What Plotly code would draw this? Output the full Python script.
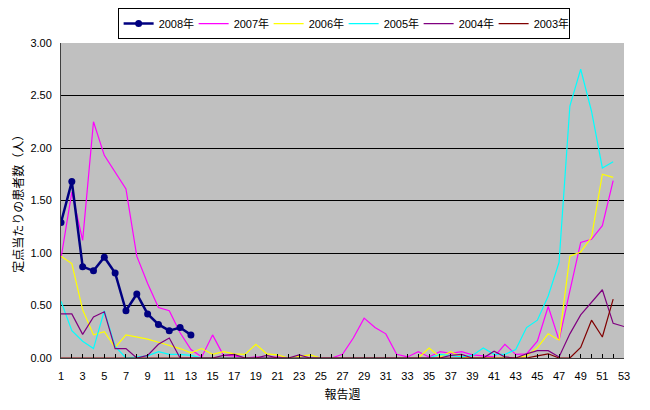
import plotly.graph_objects as go

weeks = list(range(1, 54))
x_tick_labels = [str(w) for w in range(1, 54, 2)]

y2008 = [1.29, 1.68, 0.87, 0.83, 0.96, 0.81, 0.45, 0.61, 0.42, 0.32, 0.26, 0.29, 0.22]
y2007 = [0.95, 1.58, 1.12, 2.25, 1.93, 1.77, 1.61, 0.97, 0.71, 0.48, 0.45, 0.24, 0.08, 0.01, 0.22,
         0.025, 0.02, 0.0, 0.01, 0.0, 0.01, 0.0, 0.0, 0.0, 0.0, 0.0, 0.035, 0.19, 0.38, 0.29,
         0.23, 0.035, 0.01, 0.06, 0.01, 0.06, 0.045, 0.06, 0.03, 0.02, 0.01, 0.13, 0.035, 0.04,
         0.16, 0.49, 0.17, 0.64, 1.10, 1.13, 1.26, 1.69]
y2006 = [0.97, 0.90, 0.46, 0.22, 0.25, 0.10, 0.22, 0.20, 0.18, 0.15, 0.12, 0.09, 0.05, 0.09, 0.035,
         0.06, 0.04, 0.035, 0.13, 0.04, 0.03, 0.0, 0.015, 0.03, 0.0, 0.0, 0.0, 0.0, 0.0, 0.0,
         0.0, 0.0, 0.0, 0.0, 0.095, 0.01, 0.06, 0.01, 0.0, 0.0, 0.0, 0.0, 0.0, 0.02,
         0.10, 0.23, 0.17, 0.97, 1.01, 1.15, 1.75, 1.72]
y2005 = [0.54, 0.26, 0.16, 0.09, 0.45, 0.11, 0.0, 0.01, 0.02, 0.06, 0.035, 0.035, 0.025, 0.0, 0.0,
         0.0, 0.0, 0.0, 0.0, 0.0, 0.0, 0.0, 0.0, 0.0, 0.0, 0.0, 0.0, 0.0, 0.0, 0.0,
         0.0, 0.0, 0.0, 0.0, 0.0, 0.035, 0.025, 0.01, 0.025, 0.095, 0.035, 0.035, 0.08, 0.29,
         0.36, 0.59, 0.91, 2.40, 2.75, 2.35, 1.81, 1.87]
y2004 = [0.42, 0.42, 0.225, 0.39, 0.44, 0.09, 0.09, 0.0, 0.025, 0.13, 0.19, 0.0, 0.0, 0.0, 0.0,
         0.025, 0.035, 0.0, 0.0, 0.025, 0.0, 0.0, 0.03, 0.0, 0.0, 0.0, 0.0, 0.0, 0.0, 0.0,
         0.0, 0.0, 0.0, 0.0, 0.0, 0.0, 0.025, 0.035, 0.0, 0.0, 0.065, 0.01, 0.0, 0.04,
         0.07, 0.07, 0.01, 0.23, 0.41, 0.53, 0.65, 0.33, 0.30]
y2003 = [0.0, 0.0, 0.0, 0.0, 0.0, 0.0, 0.0, 0.0, 0.0, 0.0, 0.0, 0.0, 0.0, 0.0, 0.0,
         0.0, 0.0, 0.0, 0.0, 0.0, 0.0, 0.0, 0.0, 0.0, 0.0, 0.0, 0.0, 0.0, 0.0, 0.0,
         0.0, 0.0, 0.0, 0.0, 0.0, 0.0, 0.0, 0.0, 0.0, 0.0, 0.0, 0.0, 0.0, 0.0,
         0.02, 0.04, 0.0, 0.0, 0.10, 0.36, 0.20, 0.56]

series = [
    ("2007年", y2007, "#FF00FF", 2),
    ("2006年", y2006, "#FFFF00", 3),
    ("2005年", y2005, "#00FFFF", 4),
    ("2004年", y2004, "#800080", 5),
    ("2003年", y2003, "#800000", 6),
]

FONT = "Liberation Sans, Arial, Noto Sans CJK JP, sans-serif"

fig = go.Figure()
for name, ys, color, rank in series:
    fig.add_trace(go.Scatter(x=weeks[:len(ys)], y=ys, name=name, mode="lines",
                             line=dict(color=color, width=1.2), legendrank=rank))
fig.add_trace(go.Scatter(x=weeks[:len(y2008)], y=y2008, name="2008年", mode="lines+markers",
                         line=dict(color="#000080", width=2.5),
                         marker=dict(color="#000080", size=7), legendrank=1))

fig.update_layout(
    width=634, height=394,
    margin=dict(l=53, r=18, t=35, b=44, autoexpand=False),
    paper_bgcolor="white",
    plot_bgcolor="#C0C0C0",
    font=dict(family=FONT, size=11, color="black"),
    showlegend=True,
    legend=dict(orientation="h", x=0.502, xanchor="center", y=1.111, yanchor="top",
                bordercolor="black", borderwidth=1, bgcolor="white",
                font=dict(size=11), itemwidth=30, entrywidth=30, tracegroupgap=0),
    xaxis=dict(range=[1, 53], tickmode="array", tickvals=list(range(1, 54, 2)),
               ticktext=x_tick_labels, ticks="inside", ticklen=4, tickcolor="black",
               minor=dict(dtick=1, ticks="inside", ticklen=4, tickcolor="black"),
               showgrid=False, showline=True, linecolor="#404040", linewidth=1,
               zeroline=False, ticklabelstandoff=8, automargin=False,
               title=dict(text="報告週", standoff=15, font=dict(size=12))),
    yaxis=dict(range=[0, 3], dtick=0.5, tickformat=".2f", showgrid=True,
               gridcolor="black", gridwidth=1, showline=True, linecolor="#404040",
               linewidth=1, zeroline=False, ticks="", ticklabelstandoff=6, automargin=False),
    annotations=[dict(text="定点当たりの患者数（人）", xref="paper", yref="paper",
                      x=-0.076, y=0.5, textangle=-90, showarrow=False,
                      font=dict(size=12), xanchor="center", yanchor="middle")],
)

fig.write_html("out.html")
